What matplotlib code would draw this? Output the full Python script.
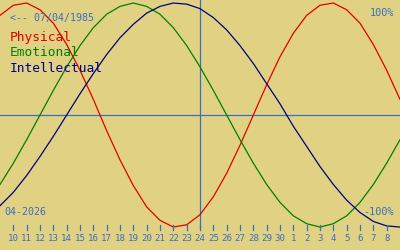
import matplotlib
matplotlib.use("Agg")
import matplotlib.pyplot as plt

# days shown (April 2026, 9 .. 39 = 9 May), today = 24
dias = list(range(9, 40))
hoy = 24
etiquetas = ["10", "11", "12", "13", "14", "15", "16", "17", "18", "19", "20",
             "21", "22", "23", "24", "25", "26", "27", "28", "29", "30",
             "1", "2", "3", "4", "5", "6", "7", "8"]
dias_etiqueta = list(range(10, 39))

fisico = [0.89, 0.98, 1.00, 0.94, 0.82, 0.63, 0.40, 0.14, -0.14, -0.40, -0.63,
          -0.82, -0.94, -1.00, -0.98, -0.89, -0.73, -0.52, -0.27, 0.00, 0.27,
          0.52, 0.73, 0.89, 0.98, 1.00, 0.94, 0.82, 0.63, 0.40, 0.14]
emocional = [-0.62, -0.43, -0.22, 0.00, 0.22, 0.43, 0.62, 0.78, 0.90, 0.97, 1.00,
             0.97, 0.90, 0.78, 0.62, 0.43, 0.22, 0.00, -0.22, -0.43, -0.62,
             -0.78, -0.90, -0.97, -1.00, -0.97, -0.90, -0.78, -0.62, -0.43, -0.22]
intelectual = [-0.81, -0.69, -0.54, -0.37, -0.19, 0.00, 0.19, 0.37, 0.54, 0.69, 0.81,
               0.91, 0.97, 1.00, 0.99, 0.95, 0.87, 0.76, 0.62, 0.46, 0.28,
               0.10, -0.10, -0.28, -0.46, -0.62, -0.76, -0.87, -0.95, -0.99, -1.00]

fondo = "#e0d282"
azul = "#3a6ec4"
fuente = "DejaVu Sans Mono"

fig = plt.figure(figsize=(4, 2.5), dpi=100)
fig.patch.set_facecolor(fondo)
ax = fig.add_axes([0, 0, 1, 1])
ax.set_facecolor(fondo)
ax.set_xlim(9, 39)
ax.set_ylim(-1.205, 1.027)
ax.axis("off")

# ejes
ax.axhline(0, color=azul, lw=0.9)
ax.plot([hoy, hoy], [1.027, -1.0], color=azul, lw=0.9)

# curvas
ax.plot(dias, fisico, color="#e00000", lw=0.9)
ax.plot(dias, emocional, color="#008000", lw=0.9)
ax.plot(dias, intelectual, color="#000080", lw=0.9)

# marcas de dias
for d, t in zip(dias_etiqueta, etiquetas):
    ax.plot([d, d], [-0.985, -1.03], color=azul, lw=0.9)
    ax.text(d, -1.1, t, color=azul, fontsize=6.6, family=fuente,
            ha="center", va="center")

# textos
ax.text(0.025, 0.93, "<-- 07/04/1985", transform=fig.transFigure, color=azul,
        fontsize=7.2, family=fuente, ha="left", va="center")
ax.text(0.985, 0.95, "100%", transform=fig.transFigure, color=azul,
        fontsize=7.4, family=fuente, ha="right", va="center")
ax.text(0.985, 0.152, "-100%", transform=fig.transFigure, color=azul,
        fontsize=7.4, family=fuente, ha="right", va="center")
ax.text(0.01, 0.152, "04-2026", transform=fig.transFigure, color=azul,
        fontsize=7.2, family=fuente, ha="left", va="center")

ax.text(0.025, 0.848, "Physical", transform=fig.transFigure, color="#e00000",
        fontsize=9.3, family=fuente, ha="left", va="center")
ax.text(0.025, 0.788, "Emotional", transform=fig.transFigure, color="#008000",
        fontsize=9.3, family=fuente, ha="left", va="center")
ax.text(0.025, 0.728, "Intellectual", transform=fig.transFigure, color="#000080",
        fontsize=9.3, family=fuente, ha="left", va="center")

fig.savefig("out.png", dpi=100, facecolor=fondo)
